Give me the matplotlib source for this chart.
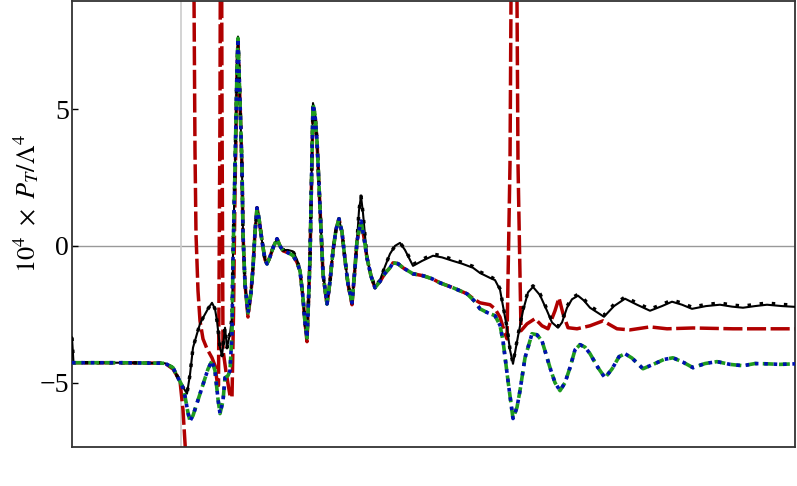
import numpy as np
import matplotlib
matplotlib.use("Agg")
import matplotlib.pyplot as plt

plt.rcParams['font.family'] = ['Liberation Serif', 'DejaVu Serif']
plt.rcParams['mathtext.fontset'] = 'stix'

nan = np.nan

# ---- green dashed / blue dotted (common curve) ----
green_x = [0, 5.0, 9.3, 10.1, 10.6, 11.0, 11.3, 11.6, 11.8, 12.1, 12.5, 12.8, 13.2, 13.6, 14.0, 14.3,
           14.6, 14.8, 15.1, 15.3, 15.6, 15.8, 16.0, 16.1, 16.3, 16.5, 16.6, 16.8, 17.0, 17.1, 17.3,
           17.6, 17.9, 18.1, 18.3, 18.5, 18.7, 19.0, 19.3, 19.5, 19.8, 20.1, 20.5, 20.8, 21.1, 21.6,
           22.1, 22.5, 22.8, 23.1, 23.3, 23.5, 23.65, 23.8, 24.0, 24.1, 24.3, 24.5, 24.8, 25.1, 25.5,
           25.8, 26.1, 26.4, 26.7, 27.0, 27.3, 27.6, 28.0, 28.3, 28.5, 28.9, 29.2, 29.5, 29.9, 30.3,
           30.8, 31.3, 31.8, 32.1, 32.6, 33.1, 34.1, 35.1, 36.0, 36.8, 38.1, 39.5, 40.2, 40.8, 41.6,
           42.3, 42.8, 43.1, 43.6, 44.1, 44.5, 44.8, 45.3, 46.0, 46.5, 47.0, 47.8, 48.3, 48.8, 49.3,
           49.8, 50.3, 50.8, 51.3, 51.8, 52.6, 53.3, 54.0, 54.7, 55.3, 56.0, 57.1, 58.3, 59.2, 60.1,
           61.1, 62.1, 63.3, 64.5, 65.8, 67.1, 68.3, 69.5, 70.8, 72.4]
green_y = [-4.27, -4.27, -4.29, -4.45, -4.82, -5.1, -5.5, -6.1, -6.4, -6.2, -5.75, -5.4, -4.95, -4.5,
           -4.20, -4.56, -5.6, -6.13, -5.66, -4.82, -4.74, -4.56, -3.21, -0.5, 2.85, 6.50, 7.59, 5.29,
           2.85, 0.44, -1.39, -2.45, -1.7, -0.80, 0.5, 1.39, 1.0, 0.18, -0.5, -0.66, -0.4, -0.07, 0.26,
           0.0, -0.18, -0.25, -0.35, -0.6, -0.91, -1.90, -2.8, -3.36, -2.0, -0.44, 3.21, 5.18, 4.8,
           3.83, 1.39, -1.02, -2.12, -1.3, -0.18, 0.6, 0.99, 0.5, -0.5, -1.39, -2.08, -0.8, 0.18, 0.91,
           0.3, -0.44, -1.1, -1.53, -1.3, -1.0, -0.80, -0.62, -0.65, -0.80, -1.02, -1.09, -1.2, -1.35,
           -1.53, -1.75, -2.0, -2.30, -2.45, -2.55, -2.9, -3.47, -4.93, -6.31, -5.9, -5.29, -4.09,
           -3.21, -3.25, -3.47, -4.45, -5.0, -5.29, -5.0, -4.45, -3.8, -3.61, -3.7, -3.94, -4.45,
           -4.82, -4.5, -4.05, -3.94, -4.1, -4.49, -4.3, -4.15, -4.09, -4.25, -4.45, -4.3, -4.23,
           -4.33, -4.38, -4.3, -4.31, -4.33, -4.31]

blue_x = list(green_x)
blue_y = list(green_y)

# ---- black solid ----
black_x = [0, 0.15, 5.0, 9.3, 10.1, 10.6, 11.0, 11.5, 11.8, 12.1, 12.5, 12.8, 13.1, 13.6, 14.0, 14.3,
           14.5, 14.8, 15.0, 15.3, 15.5, 15.8, 16.0, 16.1, 16.3, 16.5, 16.6, 16.8, 17.0, 17.1, 17.3,
           17.6, 17.9, 18.1, 18.3, 18.5, 18.7, 19.0, 19.3, 19.5, 19.8, 20.1, 20.5, 20.8, 21.1, 21.6,
           22.1, 22.5, 22.8, 23.1, 23.3, 23.5, 23.65, 23.8, 24.0, 24.1, 24.3, 24.5, 24.8, 25.1, 25.5,
           25.8, 26.1, 26.4, 26.7, 27.0, 27.3, 27.6, 28.0, 28.3, 28.5, 28.7, 28.9, 29.1, 29.5, 29.9,
           30.3, 30.8, 31.3, 31.8, 32.3, 32.8, 33.3, 34.1, 35.0, 36.1, 37.0, 38.1, 39.0, 40.1, 40.8,
           41.8, 42.3, 42.8, 43.1, 43.5, 43.8, 44.1, 44.6, 45.1, 45.6, 46.1, 46.8, 47.5, 48.0, 48.6,
           49.0, 49.5, 50.0, 50.6, 51.2, 51.8, 53.2, 54.2, 55.3, 56.5, 57.8, 59.0, 60.0, 61.0, 62.0,
           63.4, 64.8, 66.0, 67.1, 68.3, 69.5, 71.0, 72.4]
black_y = [-3.35, -4.27, -4.27, -4.29, -4.45, -4.82, -5.1, -5.40, -4.7, -3.72, -3.21, -2.85, -2.63,
           -2.3, -2.08, -2.3, -2.74, -3.72, -4.01, -2.99, -3.72, -3.21, -2.6, -0.3, 2.85, 6.50, 7.65,
           5.29, 2.85, 0.44, -1.39, -2.45, -1.7, -0.80, 0.5, 1.39, 1.0, 0.18, -0.5, -0.66, -0.4, -0.07,
           0.26, 0.0, -0.15, -0.15, -0.2, -0.5, -0.91, -1.90, -2.8, -3.36, -2.0, -0.44, 3.21, 5.22,
           4.8, 3.83, 1.39, -1.02, -2.12, -1.3, -0.18, 0.6, 0.99, 0.5, -0.5, -1.39, -2.08, -0.8, 0.18,
           1.3, 1.82, 1.2, -0.44, -1.1, -1.5, -1.25, -0.75, -0.29, 0.0, 0.11, -0.15, -0.73, -0.55,
           -0.36, -0.42, -0.55, -0.65, -0.80, -0.99, -1.17, -1.25, -1.6, -2.2, -3.0, -3.8, -4.31, -3.3,
           -2.37, -1.7, -1.50, -1.8, -2.37, -2.8, -2.99, -2.8, -2.26, -1.95, -1.82, -2.0, -2.26, -2.59,
           -2.2, -1.93, -2.15, -2.37, -2.2, -2.04, -2.15, -2.30, -2.2, -2.15, -2.22, -2.26, -2.2,
           -2.15, -2.2, -2.23]

# ---- black dotted ----
blackdot_x = list(black_x)
blackdot_y = [-3.35, -4.27, -4.27, -4.29, -4.45, -4.82, -5.1, -5.40, -4.7, -3.72, -3.21, -2.85, -2.63,
              -2.3, -2.08, -2.3, -2.74, -3.72, -4.01, -2.99, -3.72, -3.21, -2.6, -0.3, 2.85, 6.50, 7.65,
              5.29, 2.85, 0.44, -1.39, -2.45, -1.7, -0.80, 0.5, 1.39, 1.0, 0.18, -0.5, -0.66, -0.4, -0.07,
              0.26, 0.0, -0.15, -0.15, -0.2, -0.5, -0.91, -1.90, -2.8, -3.36, -2.0, -0.44, 3.21, 5.22,
              4.8, 3.83, 1.39, -1.02, -2.12, -1.3, -0.18, 0.6, 0.99, 0.5, -0.5, -1.39, -2.08, -0.8, 0.18,
              1.3, 1.82, 1.2, -0.44, -1.1, -1.5, -1.25, -0.75, -0.29, 0.0, 0.11, -0.12, -0.68, -0.5,
              -0.3, -0.36, -0.5, -0.6, -0.75, -0.95, -1.12, -1.22, -1.57, -2.17, -2.97, -3.78, -4.29, -3.26,
              -2.33, -1.66, -1.46, -1.75, -2.32, -2.75, -2.94, -2.75, -2.21, -1.9, -1.77, -1.95, -2.2, -2.53,
              -2.14, -1.87, -2.09, -2.31, -2.14, -1.98, -2.09, -2.24, -2.14, -2.09, -2.16, -2.2, -2.14,
              -2.09, -2.14, -2.17]

# ---- red dashed ----
red_x = [0, 5.0, 9.3, 10.1, 10.5, 10.8, 11.1, 11.35, 11.5, nan,
         12.15, 12.3, 12.4, 12.6, 12.8, 13.1, 13.5, 14.0, 14.3, 14.5, 14.65, 14.8, 14.9, 15.0, 15.1,
         15.4, 15.8, 16.0, 16.15, 16.3, 16.5, 16.6, 16.8, 17.0, 17.1, 17.3, 17.6, 17.9, 18.1, 18.3,
         18.5, 18.7, 19.0, 19.3, 19.5, 19.8, 20.1, 20.5, 20.8, 21.1, 21.6, 22.1, 22.5, 22.8, 23.1,
         23.3, 23.5, 23.65, 23.8, 24.0, 24.1, 24.3, 24.5, 24.8, 25.1, 25.5, 25.8, 26.1, 26.4, 26.7,
         27.0, 27.3, 27.6, 28.0, 28.3, 28.5, 28.9, 29.2, 29.5, 29.9, 30.3, 30.8, 31.3, 31.8, 32.1,
         32.6, 33.1, 34.1, 35.1, 36.0, 36.8, 38.1, 39.5, 40.2, 40.8, 41.8, 42.3, 42.8, 43.3, 43.5,
         43.8, 44.0, 44.2, 44.4, 44.6, 44.9, 45.5, 46.3, 47.0, 47.6, 48.3, 48.7, 49.1, 49.6, 50.5,
         51.8, 53.1, 54.5, 55.8, 57.8, 59.5, 62.1, 66.1, 72.4]
red_y = [-4.27, -4.27, -4.29, -4.5, -4.75, -4.93, -6.0, -7.5, -12.0, nan,
         12.0, 3.47, 0.44, -1.64, -2.74, -3.4, -3.76, -4.09, -4.38, -4.93, -5.1, 5.0, 20.0, 5.0, -3.8,
         -4.6, -5.47, -5.55, -2.5, 2.0, 6.3, 7.5, 5.29, 2.85, 0.44, -1.39, -2.6, -1.7, -0.80, 0.5,
         1.39, 1.0, 0.18, -0.5, -0.66, -0.4, -0.07, 0.26, 0.0, -0.18, -0.25, -0.35, -0.6, -0.91, -1.90,
         -2.8, -3.5, -2.0, -0.44, 3.21, 5.0, 4.8, 3.83, 1.39, -1.02, -2.15, -1.3, -0.18, 0.6, 0.99,
         0.5, -0.5, -1.39, -2.15, -0.8, 0.18, 0.91, 0.3, -0.44, -1.1, -1.53, -1.3, -1.0, -0.80, -0.62,
         -0.65, -0.80, -1.02, -1.09, -1.2, -1.35, -1.53, -1.75, -1.95, -2.08, -2.15, -2.30, -2.6, -3.2,
         -3.4, 3.0, 15.0, 40.0, 15.0, 3.0, -3.1, -2.85, -2.66, -2.92, -3.03, -2.37, -1.90, -2.48,
         -2.99, -3.03, -2.92, -2.74, -3.03, -3.07, -2.96, -3.03, -3.0, -3.03, -3.03]

vline_x = 10.9
x_limits = (0, 72.3)
y_limits = (-7.35, 8.95)
y_ticks = [-5, 0, 5]
y_tick_labels = ['\u22125', '0', '5']

fig = plt.figure(figsize=(7.97, 4.86), dpi=100)
ax = fig.add_axes([72 / 797, 1 - 447 / 486, 723 / 797, 446 / 486])

ax.axhline(0, color='#999999', lw=1.0, zorder=1)
ax.axvline(vline_x, color='#cccccc', lw=1.2, zorder=1)

ax.plot(red_x, red_y, color='#b00000', lw=2.5, ls=(0, (5.5, 1.3)), zorder=2)
ax.plot(black_x, black_y, color='black', lw=1.5, zorder=3)
ax.plot(blackdot_x, blackdot_y, color='black', lw=2.5, ls=(0, (1, 2.5)), zorder=4)
ax.plot(green_x, green_y, color='#1f9a1f', lw=2.6, ls=(0, (3, 1.5)), zorder=5)
ax.plot(blue_x, blue_y, color='#0010b0', lw=2.6, ls=(0, (1, 1.6)), zorder=6)

ax.set_xlim(*x_limits)
ax.set_ylim(*y_limits)
ax.set_xticks([])
ax.set_yticks(y_ticks)
ax.set_yticklabels(y_tick_labels)
ax.tick_params(axis='y', direction='in', length=4, width=1, labelsize=20, pad=2)

for s in ax.spines.values():
    s.set_color('#333333')
    s.set_linewidth(1.3)

ax.set_ylabel(r'$10^4\ \times\ P_T/\Lambda^4$', fontsize=19)
ax.yaxis.set_label_coords(-0.043, 0.545)

fig.savefig('out.png', dpi=100)
